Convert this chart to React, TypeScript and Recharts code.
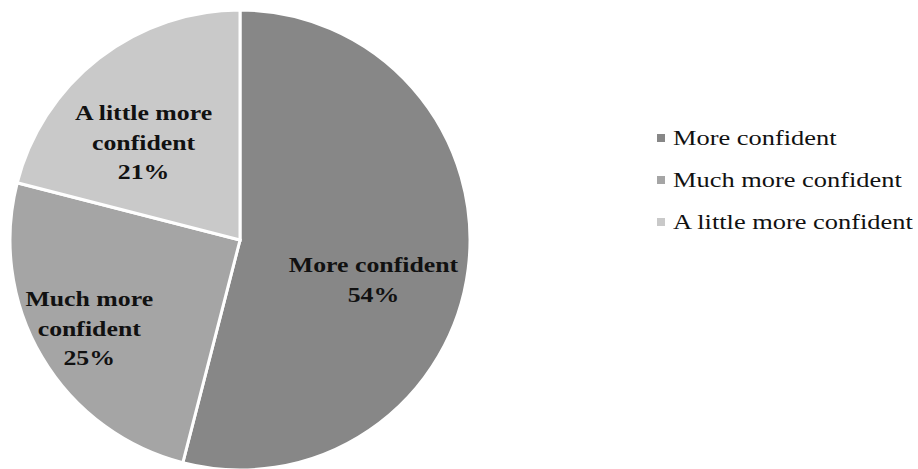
import { Cell, Legend, Pie, PieChart } from "recharts";

// Survey answers.
const categories = ["More confident", "Much more confident", "A little more confident"];
const shares = [54, 25, 21];
const colors = ["#878787", "#a5a5a5", "#c9c9c9"];
// How each category name breaks across lines inside its slice.
const labelLines = [["More confident"], ["Much more", "confident"], ["A little more", "confident"]];

// Small nudges so labels sit where the original's best-fit put them.
const labelNudge: Record<string, [number, number]> = {
  "More confident": [-8, 22],
  "Much more confident": [-28, 16],
  "A little more confident": [-9, 15],
};

const data = categories.map((name, i) => ({ name, value: shares[i] }));

const RAD = Math.PI / 180;
const SERIF = "'Times New Roman', Times, 'Liberation Serif', 'DejaVu Serif', serif";

function SliceLabel(props: any) {
  const { cx, cy, midAngle, outerRadius, index, name } = props;
  const r = outerRadius * 0.62;
  const [nx, ny] = labelNudge[name] ?? [0, 0];
  const x = cx + r * Math.cos(-midAngle * RAD) + nx;
  const y = cy + r * Math.sin(-midAngle * RAD) + ny;
  const lines = [...labelLines[index], `${shares[index]}%`];
  const lh = 29.5;
  const top = -((lines.length - 1) * lh) / 2;
  return (
    <text
      transform={`translate(${x},${y}) scale(1.2,1)`}
      textAnchor="middle"
      dominantBaseline="central"
      style={{ fontFamily: SERIF, fontWeight: 700, fontSize: 21.5 }}
      fill="#111"
    >
      {lines.map((l, i) => (
        <tspan key={i} x={0} y={top + i * lh}>
          {l}
        </tspan>
      ))}
    </text>
  );
}

function LegendBox() {
  return (
    <div style={{ fontFamily: SERIF, fontSize: 22, color: "#111" }}>
      {categories.map((name, i) => (
        <div key={name} style={{ display: "flex", alignItems: "center", height: 42 }}>
          <span
            style={{ width: 8, height: 8, background: colors[i], display: "inline-block", marginRight: 8 }}
          />
          <span style={{ display: "inline-block", transform: "scaleX(1.2)", transformOrigin: "left center" }}>
            {name}
          </span>
        </div>
      ))}
    </div>
  );
}

export default function App() {
  return (
    <div style={{ position: "absolute", left: 0, top: 0, width: 918, height: 469, background: "#fff" }}>
      <PieChart width={918} height={469} margin={{ top: 0, right: 0, bottom: 0, left: 0 }}>
        <Pie
          data={data}
          dataKey="value"
          nameKey="name"
          cx={240}
          cy={240}
          outerRadius={230}
          startAngle={90}
          endAngle={-270}
          stroke="#fff"
          strokeWidth={3}
          label={SliceLabel}
          labelLine={false}
          isAnimationActive={false}
        >
          {data.map((d, i) => (
            <Cell key={d.name} fill={colors[i]} />
          ))}
        </Pie>
        <Legend
          layout="vertical"
          content={LegendBox}
          wrapperStyle={{ position: "absolute", left: 657, top: 117, width: 261 }}
        />
      </PieChart>
    </div>
  );
}
